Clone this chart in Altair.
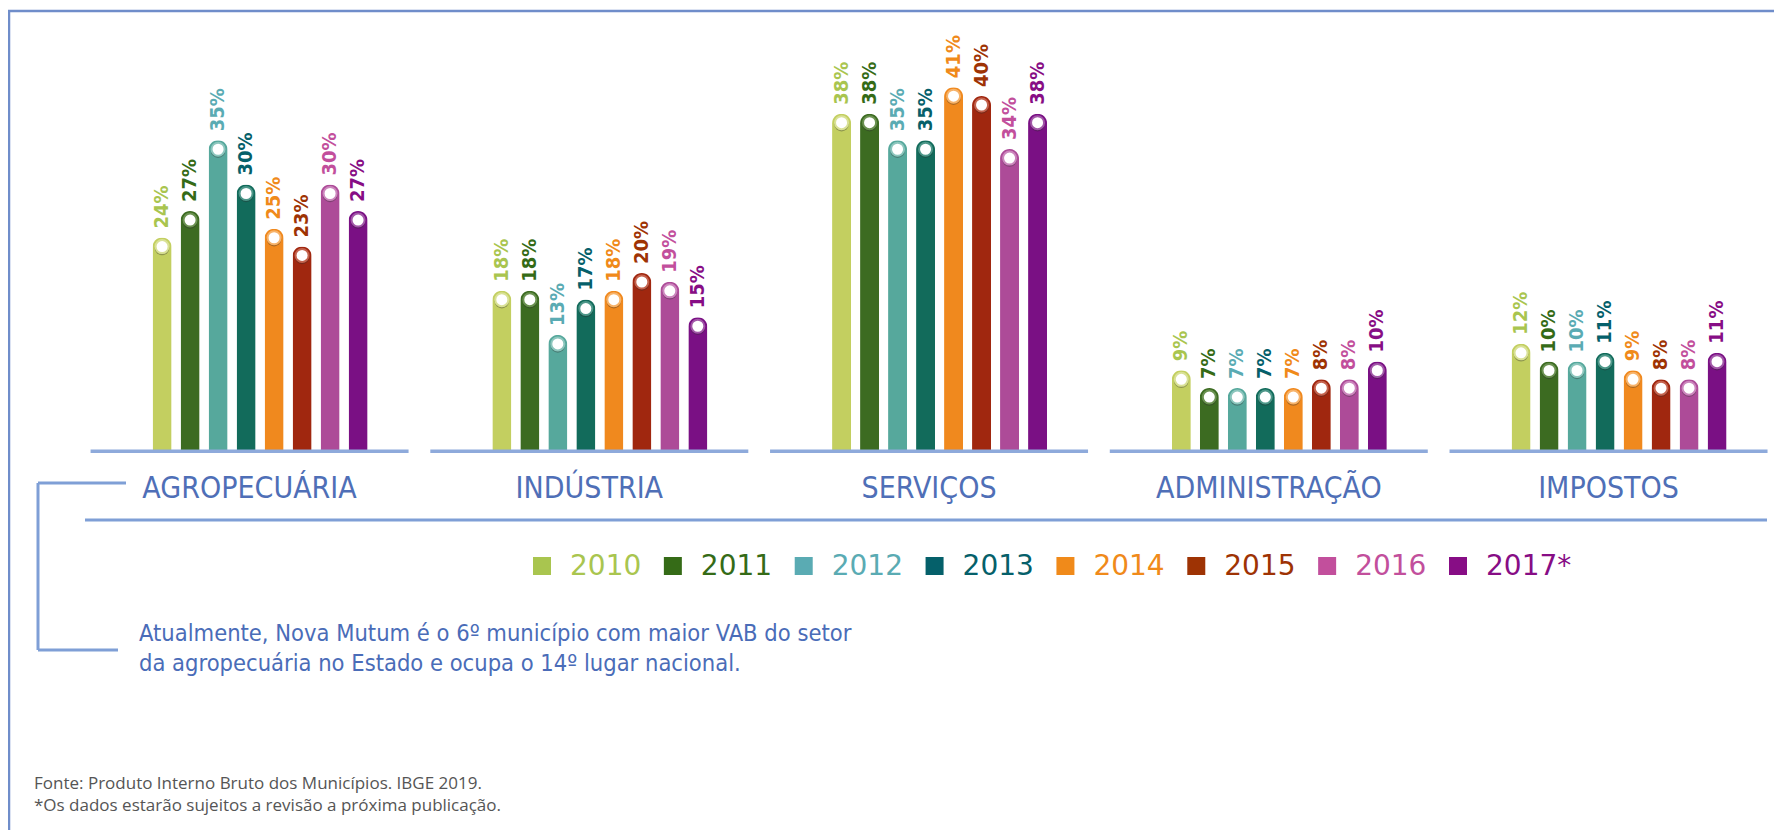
import altair as alt
import pandas as pd

# ---------------- data ----------------
sectors = ["AGROPECUÁRIA", "INDÚSTRIA", "SERVIÇOS", "ADMINISTRAÇÃO", "IMPOSTOS"]
years = ["2010", "2011", "2012", "2013", "2014", "2015", "2016", "2017"]
legend_labels = ["2010", "2011", "2012", "2013", "2014", "2015", "2016", "2017*"]

agropecuaria = [24, 27, 35, 30, 25, 23, 30, 27]
industria = [18, 18, 13, 17, 18, 20, 19, 15]
servicos = [38, 38, 35, 35, 41, 40, 34, 38]
administracao = [9, 7, 7, 7, 7, 8, 8, 10]
impostos = [12, 10, 10, 11, 9, 8, 8, 11]

bar_colors = ["#c3cf60", "#3c6b21", "#56a89c", "#126b5b", "#f0891e", "#a0270f", "#ad4b98", "#7a1084"]
ring_colors = ["#d9e196", "#6a9150", "#8cc6bd", "#4d9789", "#f7b36a", "#c4634e", "#cc86bd", "#a257a8"]
text_colors = ["#a9c54f", "#356b17", "#5aabb3", "#05606a", "#f08a1a", "#9e3304", "#c24f9c", "#870d85"]

annotation = [
    "Atualmente, Nova Mutum é o 6º município com maior VAB do setor",
    "da agropecuária no Estado e ocupa o 14º lugar nacional.",
]
footer = [
    "Fonte: Produto Interno Bruto dos Municípios. IBGE 2019.",
    "*Os dados estarão sujeitos a revisão a próxima publicação.",
]

series = [agropecuaria, industria, servicos, administracao, impostos]
rows = []
for s, vals in zip(sectors, series):
    for y, v in zip(years, vals):
        rows.append({"sector": s, "year": y, "value": v, "label": f"{v}%"})
df = pd.DataFrame(rows)
sector_df = pd.DataFrame({"sector": sectors})
legend_df = pd.DataFrame({"year": years, "lab": legend_labels})
one = pd.DataFrame({"k": [0]})

# ---------------- styles ----------------
COND = "DejaVu Sans Condensed, DejaVu Sans"
SANS = "DejaVu Sans"
BLUE_TEXT = "#4f6fb7"
LINE = "#8eaadb"
FRAME = "#6f8dca"

W, H = 1766, 822

X_SCALE = alt.Scale(domain=sectors, range=[71.7, 1770.4], paddingInner=0.064, paddingOuter=0.032)
XO_SCALE = alt.Scale(domain=years, range=[57.5, 281.5], paddingInner=0.3214, paddingOuter=0.1607)
Y_SCALE = alt.Scale(domain=[0, 50], range=[442, -0.5])
FILL_SCALE = alt.Scale(domain=years, range=text_colors)

xenc = alt.X("sector:N", scale=X_SCALE, axis=None, sort=sectors)
base = alt.Chart(df).encode(
    x=xenc,
    xOffset=alt.XOffset("year:N", scale=XO_SCALE, sort=years),
    y=alt.Y("value:Q", scale=Y_SCALE, axis=None),
)

bars = base.mark_bar(cornerRadiusTopLeft=9.5, cornerRadiusTopRight=9.5).encode(
    color=alt.Color("year:N", scale=alt.Scale(domain=years, range=bar_colors), legend=None)
)
shadow = base.mark_circle(size=210, color="#2a2a2a", opacity=0.35).encode(yOffset=alt.value(10.5))
knob = base.mark_circle(size=170, fill="white", opacity=1, strokeWidth=2, strokeOpacity=1).encode(
    stroke=alt.Stroke("year:N", scale=alt.Scale(domain=years, range=ring_colors), legend=None),
    yOffset=alt.value(9),
)
labels = base.mark_text(
    angle=270, align="left", baseline="middle", dx=9, fontSize=20, fontWeight="bold", font=COND
).encode(text="label:N", fill=alt.Fill("year:N", scale=FILL_SCALE, legend=None))

segments = alt.Chart(sector_df).mark_bar(color=LINE).encode(
    x=xenc, y=alt.value(441.5), y2=alt.value(445)
)
cat_text = alt.Chart(sector_df).mark_text(
    fontSize=30, font=COND, color=BLUE_TEXT, baseline="middle", align="center"
).encode(x=xenc, y=alt.value(481), text="sector:N")

leg_x = alt.X("year:N", scale=alt.Scale(type="point", domain=years, range=[534, 1450], padding=0), axis=None)
leg_sq = alt.Chart(legend_df).mark_square(size=324, opacity=1).encode(
    x=leg_x, y=alt.value(558), fill=alt.Fill("year:N", scale=FILL_SCALE, legend=None)
)
leg_tx = alt.Chart(legend_df).mark_text(
    align="left", baseline="middle", dx=28, fontSize=28, font=SANS
).encode(x=leg_x, y=alt.value(559), text="lab:N", fill=alt.Fill("year:N", scale=FILL_SCALE, legend=None))


def rule(x1, y1, x2, y2, color, w):
    return alt.Chart(one).mark_rule(color=color, strokeWidth=w).encode(
        x=alt.value(x1), y=alt.value(y1), x2=alt.value(x2), y2=alt.value(y2)
    )


def txt(s, x, y, size, color, font):
    return alt.Chart(one).mark_text(
        align="left", baseline="middle", fontSize=size, color=color, font=font
    ).encode(x=alt.value(x), y=alt.value(y), text=alt.value(s))


decor = [
    rule(0, 3, W, 3, FRAME, 2.5),
    rule(1, 3, 1, H, FRAME, 2.5),
    rule(77, 512, 1759, 512, "#7f9fd6", 3),
    rule(30, 475, 30, 642, "#7f9fd6", 3),
    rule(30, 475, 118, 475, "#7f9fd6", 3),
    rule(30, 642, 110, 642, "#7f9fd6", 3),
    txt(annotation[0], 131, 626, 23.5, "#4a6cb8", COND),
    txt(annotation[1], 131, 656, 23.5, "#4a6cb8", COND),
    txt(footer[0], 26, 776, 17, "#555555", "Open Sans"),
    txt(footer[1], 26, 798, 17, "#555555", "Open Sans"),
]

chart = alt.layer(
    bars, segments, shadow, knob, labels, cat_text, leg_sq, leg_tx, *decor
).resolve_scale(x="independent").properties(
    width=W, height=H, padding=0, autosize="none"
).configure_view(stroke=None)

chart.save("out.html", embed_options={"renderer": "svg", "actions": False})
